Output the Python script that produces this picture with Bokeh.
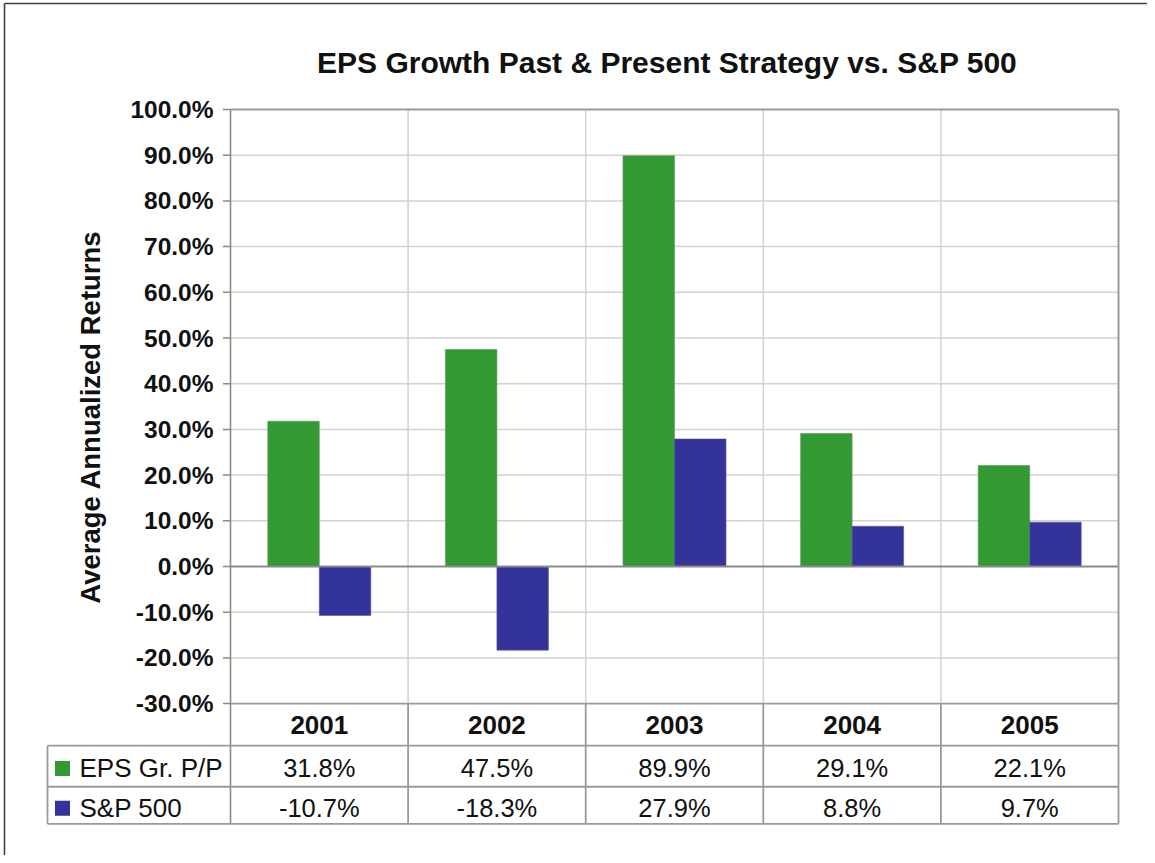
from bokeh.plotting import figure
from bokeh.models import Range1d, ColumnDataSource
from bokeh.transform import dodge
from bokeh.core.properties import value
from bokeh.embed import file_html
from bokeh.resources import INLINE
import math

# ---------------- data ----------------
years = ["2001", "2002", "2003", "2004", "2005"]
eps_growth = [31.8, 47.5, 89.9, 29.1, 22.1]
sp500 = [-10.7, -18.3, 27.9, 8.8, 9.7]
series_names = ["EPS Gr. P/P", "S&P 500"]
series_colors = ["#339933", "#333399"]
y_ticks = [-30, -20, -10, 0, 10, 20, 30, 40, 50, 60, 70, 80, 90, 100]
chart_title = "EPS Growth Past & Present Strategy  vs.  S&P 500"
y_title = "Average Annualized Returns"

# ---------------- layout ----------------
W, H = 1147, 855
PX_X0 = 230.0     # left edge of plot area inside canvas
PX_CAT = 177.6    # pixels per category
PX_Y0 = 566.0     # zero line inside canvas
PX_PCT = 4.57     # pixels per percent

FONT = value("Liberation Sans")
GRID = "#d2d2d2"
AXIS = "#8a8a8a"
TBL = "#9a9a9a"
INK = "#111111"

n = len(years)
ymin, ymax = y_ticks[0], y_ticks[-1]
tbl_edges = [ymin, -39.2, -48.2, -56.3]
tbl_left = -(PX_X0 - 47.0) / PX_CAT
hdr_y = -34.6
row_y = [-44.2, -52.9]

p = figure(width=W, height=H,
           x_range=Range1d(-PX_X0 / PX_CAT, (W - PX_X0) / PX_CAT),
           y_range=Range1d(-(H - PX_Y0) / PX_PCT, PX_Y0 / PX_PCT),
           output_backend="svg", toolbar_location=None,
           x_axis_location=None, y_axis_location=None,
           min_border=0, outline_line_color=None)
p.grid.visible = False
p.background_fill_color = "white"
p.border_fill_color = "white"

# outer border (left/top)
bx = -(PX_X0 - 4.0) / PX_CAT
by = (PX_Y0 - 3.0) / PX_PCT
p.segment(x0=[bx, bx], y0=[p.y_range.start, by], x1=[bx, p.x_range.end], y1=[by, by],
          line_color="#404040", line_width=1.6)

# horizontal gridlines
gy = [t for t in y_ticks if t not in (ymin, 0, ymax)]
p.segment(x0=[0] * len(gy), y0=gy, x1=[n] * len(gy), y1=gy, line_color=GRID, line_width=1.5)
# vertical gridlines
gx = list(range(1, n))
p.segment(x0=gx, y0=[ymin] * len(gx), x1=gx, y1=[ymax] * len(gx), line_color=GRID, line_width=1.5)

# bars
bw = 0.29
src = ColumnDataSource(dict(xc=[i + 0.5 for i in range(n)], eps=eps_growth, sp=sp500))
p.vbar(x=dodge("xc", -bw / 2), width=bw, top="eps", bottom=0, source=src,
       fill_color=series_colors[0], line_color="#5a9a5a", line_width=0.6)
p.vbar(x=dodge("xc", bw / 2), width=bw, top="sp", bottom=0, source=src,
       fill_color=series_colors[1], line_color="#55559a", line_width=0.6)

# plot-area frame and axes
p.segment(x0=[0], y0=[0], x1=[n], y1=[0], line_color=AXIS, line_width=1.8)
p.segment(x0=[0, n], y0=[ymax, ymin], x1=[n, n], y1=[ymax, ymax], line_color="#9a9a9a", line_width=2)
p.segment(x0=[0], y0=[tbl_edges[-1]], x1=[0], y1=[ymax], line_color=AXIS, line_width=1.6)
tk = -7.5 / PX_CAT
p.segment(x0=[tk] * len(y_ticks), y0=y_ticks, x1=[0] * len(y_ticks), y1=y_ticks,
          line_color=AXIS, line_width=1.5)
p.text(x=[0] * len(y_ticks), y=y_ticks, text=[f"{t:.1f}%" for t in y_ticks],
       x_offset=-17, text_align="right", text_baseline="middle",
       text_font=FONT, text_font_size="24.5px", text_font_style="bold", text_color=INK)

# data table
p.segment(x0=[0], y0=[tbl_edges[0]], x1=[n], y1=[tbl_edges[0]], line_color=TBL, line_width=1.8)
hl = tbl_edges[1:]
p.segment(x0=[tbl_left] * len(hl), y0=hl, x1=[n] * len(hl), y1=hl, line_color=TBL, line_width=1.8)
vx = list(range(1, n + 1))
p.segment(x0=vx, y0=[tbl_edges[0]] * len(vx), x1=vx, y1=[tbl_edges[-1]] * len(vx),
          line_color=TBL, line_width=1.8)
p.segment(x0=[tbl_left], y0=[tbl_edges[1]], x1=[tbl_left], y1=[tbl_edges[-1]],
          line_color=TBL, line_width=1.8)

xc = [i + 0.5 for i in range(n)]
p.text(x=xc, y=[hdr_y] * n, text=years, text_align="center", text_baseline="middle",
       text_font=FONT, text_font_size="26px", text_font_style="bold", text_color=INK)
for vals, yy in zip([eps_growth, sp500], row_y):
    p.text(x=xc, y=[yy] * n, text=[f"{v:.1f}%" for v in vals], text_align="center",
           text_baseline="middle", text_font=FONT, text_font_size="25.5px", text_color=INK)

# legend keys in table
p.rect(x=[tbl_left + 15.0 / PX_CAT] * 2, y=row_y, width=15, height=15,
       width_units="screen", height_units="screen", fill_color=series_colors, line_color=None)
p.text(x=[tbl_left + 32.0 / PX_CAT] * 2, y=row_y, text=series_names, text_align="left",
       text_baseline="middle", text_font=FONT, text_font_size="26px", text_color=INK)

# titles
p.text(x=[(675 - PX_X0) / PX_CAT], y=[(PX_Y0 - 62) / PX_PCT], text=[chart_title], text_align="center",
       text_baseline="middle", text_font=FONT, text_font_size="30px", text_font_style="bold",
       text_color=INK)
p.text(x=[-(PX_X0 - 90) / PX_CAT], y=[(PX_Y0 - 416.5) / PX_PCT], text=[y_title], angle=math.pi / 2,
       text_align="center", text_baseline="middle", text_font=FONT, text_font_size="27.5px",
       text_font_style="bold", text_color=INK)

open("out.html", "w").write(file_html(p, INLINE))
